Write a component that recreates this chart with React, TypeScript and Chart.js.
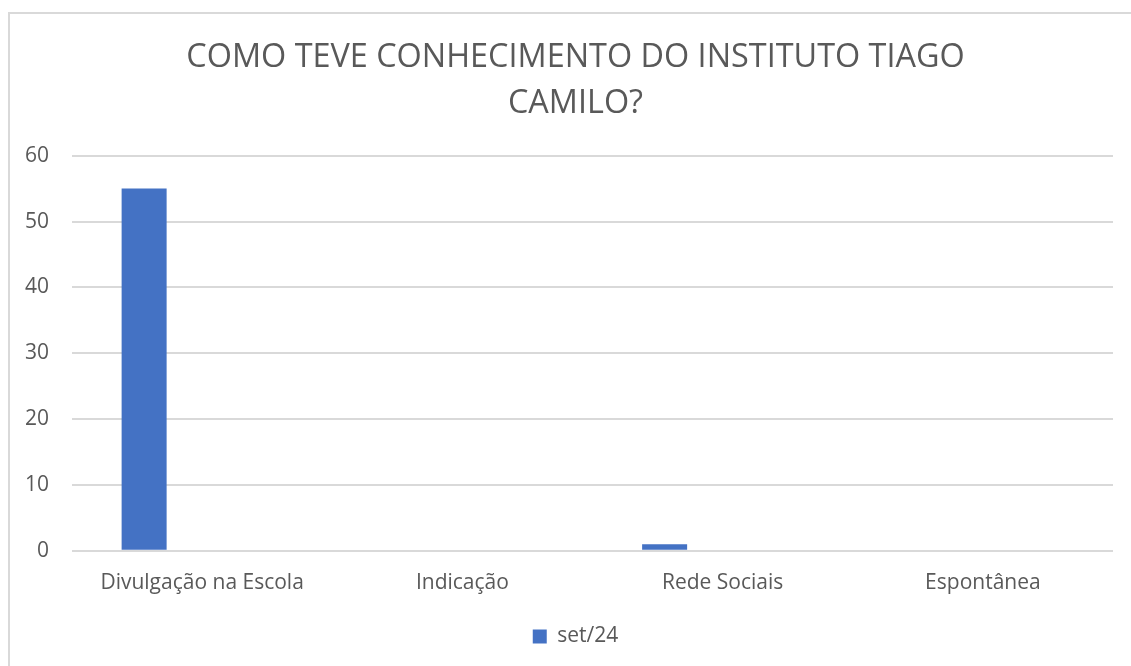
import React, { useEffect, useRef } from "react";
import { Chart, registerables } from "chart.js";

Chart.register(...registerables);

const categories = ["Divulgação na Escola", "Indicação", "Rede Sociais", "Espontânea"];
const seriesLabel = "set/24";
const seriesValues = [55, 0, 1, 0];
const emptySeries = [null, null, null, null];
const yTicks = [0, 10, 20, 30, 40, 50, 60];
const titleLines = ["COMO TEVE CONHECIMENTO DO INSTITUTO TIAGO", "CAMILO?"];

const FONT = "'Open Sans', 'Noto Sans', sans-serif";
const GREY = "#595959";

export default function App() {
  const ref = useRef<HTMLCanvasElement | null>(null);
  useEffect(() => {
    if (!ref.current) return;
    const chart = new Chart(ref.current, {
      type: "bar",
      data: {
        labels: categories,
        datasets: [
          { label: seriesLabel, data: seriesValues, backgroundColor: "#4472C4", borderWidth: 0 },
          { label: "", data: emptySeries as any, backgroundColor: "#ED7D31" },
          { label: "", data: emptySeries as any, backgroundColor: "#A5A5A5" },
        ],
      },
      options: {
        animation: false,
        responsive: false,
        maintainAspectRatio: false,
        layout: { padding: { left: 0, right: 0, top: 0, bottom: 9 } },
        datasets: { bar: { categoryPercentage: 0.6686, barPercentage: 0.776 } },
        plugins: {
          tooltip: { enabled: false },
          title: {
            display: true,
            text: titleLines,
            color: GREY,
            font: { family: FONT, size: 32.4, weight: "normal", lineHeight: 1.415 },
            padding: { top: 21, bottom: 29 },
          },
          legend: {
            position: "bottom",
            labels: {
              filter: (item: any) => item.text !== "",
              color: GREY,
              font: { family: FONT, size: 21 },
              boxWidth: 14,
              boxHeight: 14,
              padding: 10,
            },
          },
        },
        scales: {
          x: {
            grid: { display: false, drawTicks: false },
            border: { display: false },
            ticks: { color: GREY, font: { family: FONT, size: 21 }, padding: 20 },
          },
          y: {
            min: 0,
            max: 60,
            afterBuildTicks: (axis: any) => {
              axis.ticks = yTicks.map((v) => ({ value: v }));
            },
            afterFit: (axis: any) => {
              axis.width = 62;
            },
            grid: { color: "#d9d9d9", lineWidth: 2, drawTicks: false },
            border: { display: false },
            ticks: { color: GREY, font: { family: FONT, size: 21 }, padding: 23 },
          },
          yRight: {
            position: "right",
            min: 0,
            max: 60,
            grid: { display: false, drawTicks: false },
            border: { display: false },
            ticks: { display: false },
            afterFit: (axis: any) => {
              axis.width = 28;
            },
          },
        },
      },
    });
    return () => chart.destroy();
  }, []);
  return (
    <div
      style={{
        position: "absolute",
        left: 8,
        top: 12,
        width: 1123,
        height: 654,
        boxSizing: "border-box",
        borderLeft: "2px solid #d9d9d9",
        borderTop: "2px solid #d9d9d9",
        background: "#fff",
        overflow: "hidden",
      }}
    >
      <canvas ref={ref} width={1131} height={652} style={{ display: "block" }} />
    </div>
  );
}
